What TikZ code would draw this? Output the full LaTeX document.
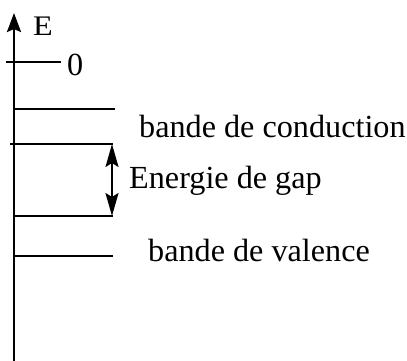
\documentclass[tikz,border=0pt]{standalone}
\usepackage{fontspec}
\setmainfont{Liberation Serif}
\usetikzlibrary{arrows.meta}
\begin{document}
\begin{tikzpicture}[x=1pt,y=-1pt,
  lbl/.style={inner sep=0pt,anchor=base west,font=\fontsize{32.2}{38}\selectfont},
  ln/.style={line width=2.1pt},
  axisline/.style={line width=2.5pt,-{Stealth[length=19pt,width=14pt,inset=3pt]}},
  gaparrow/.style={line width=1.9pt,{Stealth[length=23pt,width=13pt,inset=4pt]}-{Stealth[length=23pt,width=13pt,inset=4pt]}}]
\useasboundingbox (0,0) rectangle (407,360);
% axis
\coordinate (axbot) at (14,361);
\coordinate (axtop) at (14,13);
\draw[axisline] (axbot) -- (axtop);
\node[lbl,yscale=0.88] (E) at (33,35) {E};
% zero level
\coordinate (z0) at (6,62);
\coordinate (z1) at (61,62);
\draw[ln] (z0) -- (z1);
\node[lbl] (zero) at (67,75) {0};
% conduction band lines
\coordinate (c1a) at (14,109);
\coordinate (c1b) at (115,109);
\draw[ln] (c1a) -- (c1b);
\coordinate (c2a) at (10,144);
\coordinate (c2b) at (113,144);
\draw[ln] (c2a) -- (c2b);
\node[lbl] (cond) at (139,137) {bande de conduction};
% valence band lines
\coordinate (v1a) at (14,216);
\coordinate (v1b) at (113,216);
\draw[ln] (v1a) -- (v1b);
\coordinate (v2a) at (14,256);
\coordinate (v2b) at (113,256);
\draw[ln] (v2a) -- (v2b);
\node[lbl] (val) at (148,261) {bande de valence};
% gap arrow
\coordinate (gtop) at (112,144);
\coordinate (gbot) at (112,216);
\draw[gaparrow] (gbot) -- (gtop);
\node[lbl] (gap) at (129,188) {Energie de gap};
\end{tikzpicture}
\end{document}
